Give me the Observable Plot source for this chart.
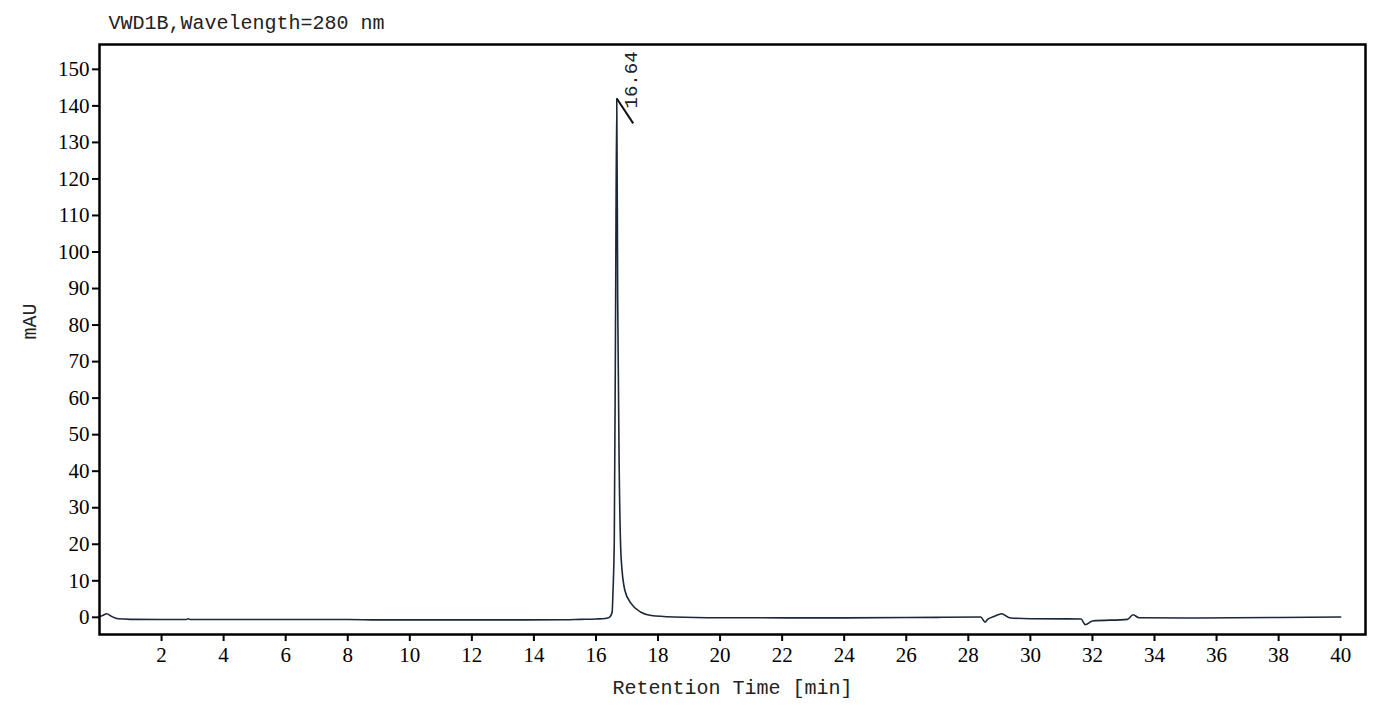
<!DOCTYPE html>
<html>
<head>
<meta charset="utf-8">
<script src="https://cdn.jsdelivr.net/npm/d3@7"></script>
<script src="https://cdn.jsdelivr.net/npm/@observablehq/plot@0.6"></script>
<style>
  html, body { margin: 0; padding: 0; background: #fff; }
</style>
</head>
<body>
<div id="chart"></div>
<script>
const titleText = "VWD1B,Wavelength=280 nm";
const xLabel = "Retention Time [min]";
const yLabel = "mAU";
const peakLabel = "16.64";
const xTicks = [2,4,6,8,10,12,14,16,18,20,22,24,26,28,30,32,34,36,38,40];
const yTicks = [0,10,20,30,40,50,60,70,80,90,100,110,120,130,140,150];

const time = [0, 0.1, 0.23, 0.4, 0.6, 1.0, 2.0, 2.8, 2.86, 2.92, 4, 6, 8, 9, 12, 15, 15.5, 16.0, 16.3, 16.43,
  16.52, 16.55, 16.59, 16.63, 16.67, 16.70, 16.75, 16.81, 16.93, 17.13, 17.45, 17.78, 18.5, 20, 24, 27,
  28.4, 28.54, 28.62, 28.85, 29.07, 29.32, 30, 31.63, 31.77, 32.0, 33.13, 33.31, 33.5, 35, 38, 40];
const signal = [0.2, 0.5, 1.0, 0.2, -0.4, -0.55, -0.6, -0.6, -0.4, -0.6, -0.6, -0.6, -0.6, -0.7, -0.7, -0.65, -0.55, -0.45, -0.3, 0,
  1.4, 7.4, 21, 80, 142, 87, 40, 16.4, 7.4, 3.8, 1.4, 0.5, 0.1, -0.1, -0.15, 0,
  0.1, -1.3, -0.55, 0.3, 1.0, -0.1, -0.4, -0.45, -2.0, -1.0, -0.55, 0.7, -0.1, -0.2, -0.05, 0.1];

const data = time.map((t, i) => ({t, v: signal[i]}));
const peakT = 16.67, peakV = 142;

const chart = Plot.plot({
  width: 1397,
  height: 705,
  marginLeft: 99,
  marginRight: 32,
  marginTop: 44,
  marginBottom: 71,
  style: {background: "#fff", color: "#000"},
  x: {domain: [0, 40.8]},
  y: {domain: [-4.7, 156.8]},
  marks: [
    Plot.axisY({ticks: yTicks, tickSize: 7, tickPadding: 3, strokeWidth: 2, label: null, fontSize: 21, fontFamily: "Liberation Serif"}),
    Plot.axisX({ticks: xTicks, tickSize: 7, tickPadding: 6, strokeWidth: 2, label: null, fontSize: 21, fontFamily: "Liberation Serif"}),
    Plot.line(data, {x: "t", y: "v", stroke: "#1b2838", strokeWidth: 1.6, curve: "monotone-x"}),
    Plot.link([{x1: peakT, y1: peakV, x2: 17.2, y2: 135.2}], {x1: "x1", y1: "y1", x2: "x2", y2: "y2", stroke: "#111", strokeWidth: 2}),
    Plot.text([{x: 17.13, y: 139.3, s: peakLabel}], {x: "x", y: "y", text: "s", rotate: -90, textAnchor: "start", fontFamily: "Liberation Mono", fontSize: 19, fill: "#222"}),
    Plot.frame({stroke: "#000", strokeWidth: 2.5}),
    Plot.text([titleText], {frameAnchor: "top-left", dx: 9, dy: -16, lineAnchor: "bottom", textAnchor: "start", fontFamily: "Liberation Mono", fontSize: 20, fill: "#222"}),
    Plot.text([xLabel], {frameAnchor: "bottom", dy: 59, lineAnchor: "bottom", fontFamily: "Liberation Mono", fontSize: 20, fill: "#222"}),
    Plot.text([yLabel], {frameAnchor: "left", dx: -70, rotate: -90, fontFamily: "Liberation Mono", fontSize: 20, fill: "#222"})
  ]
});
document.getElementById("chart").appendChild(chart);
</script>
</body>
</html>
